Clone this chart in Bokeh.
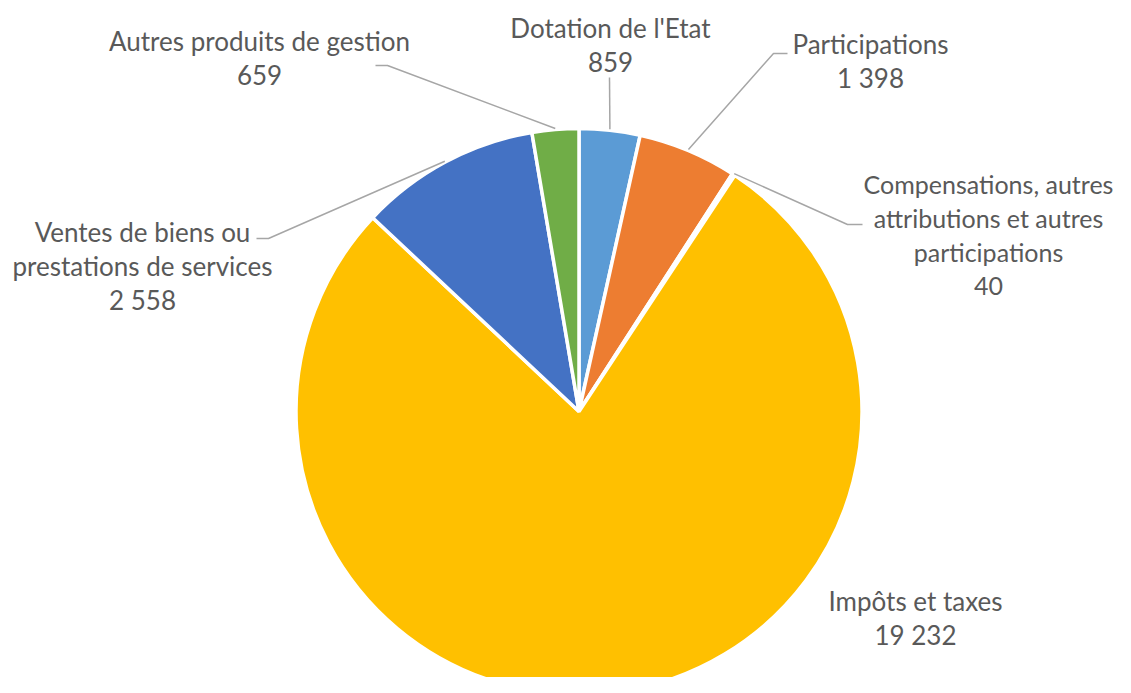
import math
from bokeh.plotting import figure
from bokeh.models import Range1d, ColumnDataSource
from bokeh.core.properties import value
from bokeh.embed import file_html
from bokeh.resources import INLINE

# ---- data ----
categories = ["Dotation de l'Etat", "Participations",
              "Compensations, autres attributions et autres participations",
              "Impôts et taxes", "Ventes de biens ou prestations de services",
              "Autres produits de gestion"]
values = [859, 1398, 40, 19232, 2558, 659]
colors = ["#5B9BD5", "#ED7D31", "#A5A5A5", "#FFC000", "#4472C4", "#70AD47"]

# ---- layout (screen pixel coordinates of the reference) ----
label_lines = [["Dotation de l'Etat"], ["Participations"],
               ["Compensations, autres", "attributions et autres", "participations"],
               ["Impôts et taxes"], ["Ventes de biens ou", "prestations de services"],
               ["Autres produits de gestion"]]
label_pos = [(610, 27), (870, 43), (988, 183), (915, 600), (142, 231), (259, 40)]
label_size = ["26px", "26px", "25px", "26px", "26px", "26px"]
leader_ends = [[(609, 77)], [(773, 53), (787, 53)], [(847, 224), (862, 224)], None,
               [(268, 238), (256, 238)], [(387, 65), (375, 65)]]
LINE_H = 34
W, H = 1115, 677
SCREEN_H = 693
CX, CY_S, R = 578.5, 411, 283


def Y(sy):
    return SCREEN_H - sy


p = figure(width=W, height=H, x_range=Range1d(0, W), y_range=Range1d(SCREEN_H - H, SCREEN_H),
           output_backend="svg", toolbar_location=None, min_border=0)
p.axis.visible = False
p.grid.visible = False
p.outline_line_color = None
p.background_fill_color = "white"

total = sum(values)
starts, ends, mids = [], [], []
cum = 0.0
for v in values:
    a0 = math.pi / 2 - 2 * math.pi * cum / total
    cum += v
    a1 = math.pi / 2 - 2 * math.pi * cum / total
    starts.append(a1)
    ends.append(a0)
    mids.append((a0 + a1) / 2)

src = ColumnDataSource(dict(start=starts, end=ends, color=colors, name=categories, val=values))
p.wedge(x=CX, y=Y(CY_S), radius=R, start_angle="start", end_angle="end", fill_color="color",
        line_color="white", line_width=3.5, source=src)

# leader lines
for i, ends_pts in enumerate(leader_ends):
    if not ends_pts:
        continue
    sx = CX + (R + 1) * math.cos(mids[i])
    sy = Y(CY_S) + (R + 1) * math.sin(mids[i])
    xs = [sx] + [e[0] for e in ends_pts]
    ys = [sy] + [Y(e[1]) for e in ends_pts]
    p.line(xs, ys, line_color="#A6A6A6", line_width=1.5)

# labels
tx, ty, tt, ts = [], [], [], []
for i, lines in enumerate(label_lines):
    x0, y0 = label_pos[i]
    all_lines = lines + [f"{values[i]:,}".replace(",", " ")]
    for j, ln in enumerate(all_lines):
        tx.append(x0)
        ty.append(Y(y0 + j * LINE_H))
        tt.append(ln)
        ts.append(label_size[i])
lsrc = ColumnDataSource(dict(x=tx, y=ty, text=tt, size=ts))
p.text(x="x", y="y", text="text", text_font_size="size", source=lsrc,
       text_align="center", text_baseline="middle",
       text_font=value("Lato"), text_color="#595959")

open("out.html", "w").write(file_html(p, INLINE))
